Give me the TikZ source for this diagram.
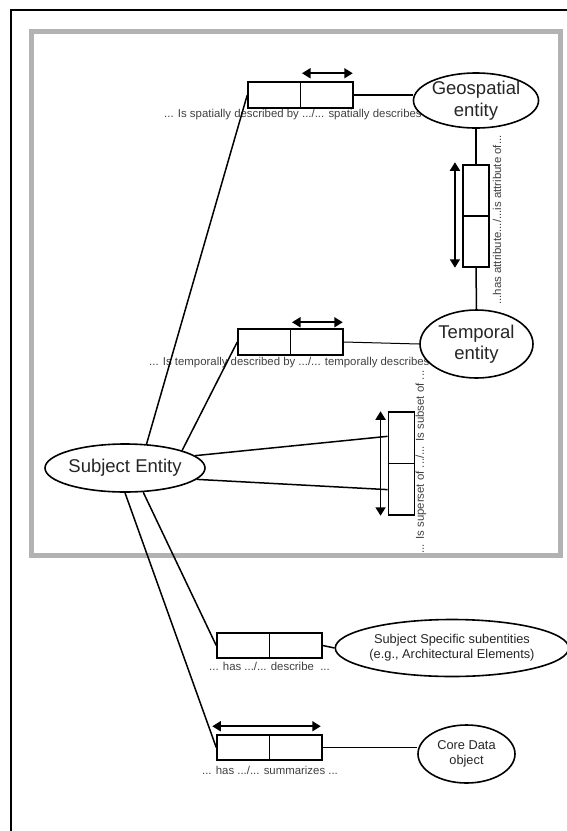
\documentclass[tikz,border=0pt]{standalone}
\usepackage{fontspec}
\setmainfont{Liberation Sans}
\usetikzlibrary{arrows.meta,shapes.geometric,calc}
\begin{document}
\begin{tikzpicture}[x=1pt,y=-1pt,
  ent/.style={ellipse, draw, line width=1.6pt, fill=white, inner sep=0pt, align=center, text=black!85},
  bigtxt/.style={font=\fontsize{18.5}{21.5}\selectfont},
  midtxt/.style={font=\fontsize{12.8}{15}\selectfont},
  relbox/.style={draw, line width=1.5pt, inner sep=0pt, fill=white},
  lbl/.style={font=\fontsize{11.4}{12}\selectfont, text=black!75, inner sep=0pt},
  conn/.style={line width=1.5pt},
  thinconn/.style={line width=1pt},
  dbl/.style={{Triangle[length=8.5pt,width=10pt]}-{Triangle[length=8.5pt,width=10pt]}, line width=1.7pt},
  frame/.style={line width=1.6pt},
  grayframe/.style={line width=5pt, draw=black!30}
]
\useasboundingbox (0,0) rectangle (567,831);
% frames
\draw[frame] (11,840) -- (11,10) -- (580,10);
\draw[grayframe] (31,31) rectangle (560,555);

% labels (drawn first so that ellipses can cover their ends)
\node[lbl, anchor=west] (lg) at (164,115) {... Is spatially described by .../... spatially describes ...};
\node[lbl, anchor=west] (lt) at (149,363) {... Is temporally described by .../... temporally describes ...};
\node[lbl, rotate=90] (la) at (497,220) {...has attribute.../...is attribute of...};
\node[lbl, rotate=90] (ls) at (421,462) {... Is superset of .../... Is subset of ...};
\node[lbl, anchor=west] (lsub) at (209,666) {... has .../... describe \ ...};
\node[lbl] (lcore) at (270,770) {... has .../... summarizes ...};

% entities
\node[ent, bigtxt, minimum width=122pt, minimum height=55pt] (geo) at (476,100.5) {Geospatial\\entity};
\node[ent, bigtxt, minimum width=113pt, minimum height=68pt] (temp) at (476.5,344) {Temporal\\entity};
\node[ent, bigtxt, minimum width=146pt, minimum height=48pt] (subj) at (125,468) {Subject Entity};
\node[ent, midtxt, minimum width=180pt, minimum height=57pt] (spec) at (452,648) {Subject Specific subentities\\(e.g., Architectural Elements)};
\node[ent, midtxt, minimum width=97pt, minimum height=58pt] (core) at (466.5,754) {Core Data\\object};

% relation boxes
\node[relbox, minimum width=105pt, minimum height=26pt] (gbox) at (300.5,95) {};
\node[relbox, minimum width=105pt, minimum height=26pt] (tbox) at (290.5,342) {};
\node[relbox, minimum width=26pt, minimum height=102pt] (abox) at (476,216) {};
\node[relbox, minimum width=26pt, minimum height=103pt] (sbox) at (401.3,463.5) {};
\node[relbox, minimum width=105pt, minimum height=25pt] (subbox) at (269.5,645.5) {};
\node[relbox, minimum width=105pt, minimum height=25pt] (cbox) at (269.5,747.5) {};
\foreach \b in {gbox,tbox,subbox,cbox} \draw[line width=1.6pt] (\b.north) -- (\b.south);
\foreach \b in {abox,sbox} \draw[line width=1.6pt] (\b.west) -- (\b.east);

% double arrows
\coordinate (ga1) at ($(gbox.north)+(1.5,-8)$);
\coordinate (ga2) at ($(gbox.north east)+(-1,-8)$);
\draw[dbl] (ga1) -- (ga2);
\coordinate (ta1) at ($(tbox.north)+(1.5,-6)$);
\coordinate (ta2) at ($(tbox.north east)+(-1,-6)$);
\draw[dbl] (ta1) -- (ta2);
\coordinate (ca1) at ($(cbox.north west)+(-4,-8)$);
\coordinate (ca2) at ($(cbox.north east)+(-2,-8)$);
\draw[dbl] (ca1) -- (ca2);
\coordinate (aa1) at ($(abox.north west)+(-7.3,-2)$);
\coordinate (aa2) at ($(abox.south west)+(-7.3,0)$);
\draw[dbl] (aa1) -- (aa2);
\coordinate (sa1) at ($(sbox.north west)+(-7,0)$);
\coordinate (sa2) at ($(sbox.south west)+(-7,0)$);
\draw[dbl] (sa1) -- (sa2);

% connectors
\draw[conn] (gbox.east) -- (gbox.east -| geo.west);
\draw[conn] (geo.south) -- (abox.north);
\draw[conn] (abox.south) -- (temp.north);
\draw[thinconn] (tbox.east) -- (temp.west);
\draw[conn] (subj.48) -- (gbox.west);
\draw[conn] (subj.north east) -- (tbox.west);
\coordinate (s1) at ($(sbox.north west)!0.24!(sbox.south west)$);
\coordinate (s2) at ($(sbox.north west)!0.75!(sbox.south west)$);
\draw[conn] (subj.10) -- (s1);
\draw[conn] (subj.-9) -- (s2);
\draw[conn] (subj.-53) -- (subbox.west);
\draw[conn] (subj.south) -- (cbox.west);
\draw[conn] (subbox.east) -- (spec.west);
\draw[conn] (cbox.east) -- (cbox.east -| core.west);
\end{tikzpicture}
\end{document}
